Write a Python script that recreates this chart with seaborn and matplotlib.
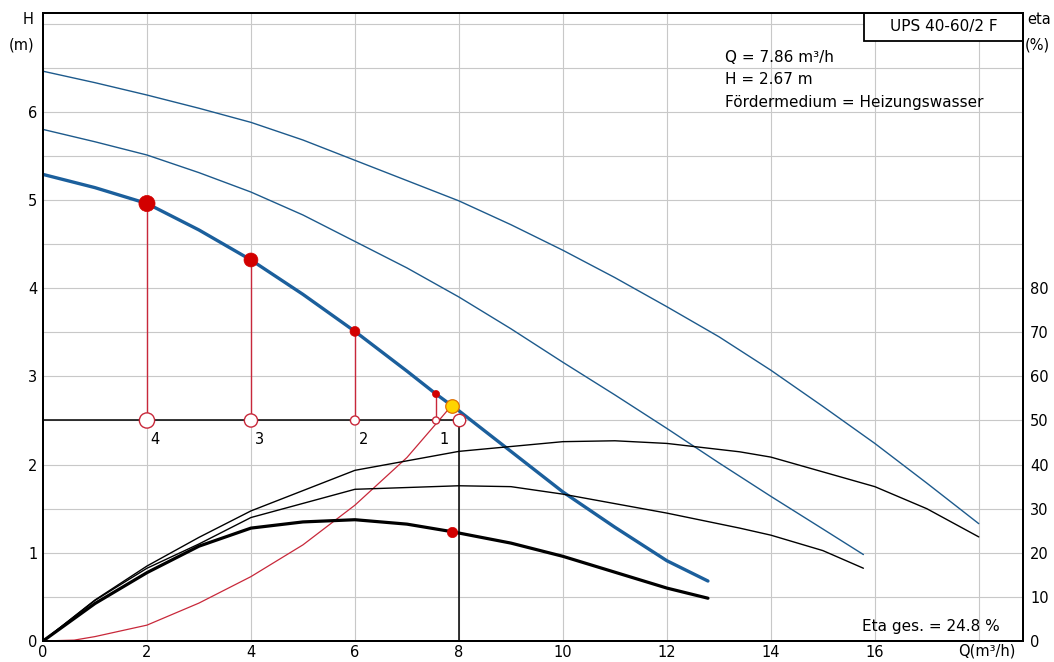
import matplotlib
matplotlib.use("Agg")
import matplotlib.pyplot as plt
from matplotlib.patches import Rectangle
import seaborn as sns

# Pump head curves H (m) over flow Q (m³/h), one per speed stage
q_stage3 = [0, 1, 2, 3, 4, 5, 6, 7, 8, 9, 10, 11, 12, 13, 14, 15, 16, 17, 18]
h_stage3 = [6.46, 6.33, 6.19, 6.04, 5.88, 5.68, 5.45, 5.22, 4.99, 4.72,
            4.43, 4.12, 3.79, 3.45, 3.07, 2.66, 2.24, 1.79, 1.33]
q_stage2 = [0, 1, 2, 3, 4, 5, 6, 7, 8, 9, 10, 11, 12, 13, 14, 15, 15.78]
h_stage2 = [5.80, 5.66, 5.51, 5.31, 5.09, 4.83, 4.53, 4.23, 3.90, 3.54,
            3.16, 2.79, 2.41, 2.02, 1.64, 1.27, 0.98]
q_stage1 = [0, 1, 2, 3, 4, 5, 6, 7, 7.56, 7.86, 8, 9, 10, 11, 12, 12.79]
h_stage1 = [5.29, 5.14, 4.96, 4.66, 4.32, 3.93, 3.51, 3.06, 2.80, 2.67,
            2.61, 2.15, 1.69, 1.29, 0.91, 0.68]

# Efficiency curves eta (%) per speed stage
q_eta3 = [0, 1, 2, 3, 4, 6, 8, 10, 11, 12, 13.4, 14, 16, 17, 18]
eta3 = [0, 9.3, 17.0, 23.5, 29.5, 38.7, 43.0, 45.2, 45.4, 44.8, 42.9,
        41.7, 35.0, 30.0, 23.6]
q_eta2 = [0, 1, 2, 3, 4, 6, 8, 9, 10, 12, 13.4, 14, 15, 15.78]
eta2 = [0, 9.2, 16.5, 22.0, 28.0, 34.4, 35.2, 35.0, 33.3, 29.0, 25.6,
        24.0, 20.5, 16.5]
q_eta1 = [0, 1, 2, 3, 4, 5, 6, 7, 7.86, 9, 10, 11, 12, 12.79]
eta1 = [0, 8.5, 15.5, 21.5, 25.6, 27.0, 27.5, 26.5, 24.8, 22.2, 19.2,
        15.6, 12.0, 9.7]

# System curve up to the operating point
q_system = [0, 0.6, 1, 2, 3, 4, 5, 6, 7, 7.6, 7.86]
h_system = [0, 0.01, 0.05, 0.18, 0.43, 0.73, 1.09, 1.54, 2.08, 2.49, 2.67]

# Marked points on the stage-1 head curve and their numbering
mark_q = [2, 4, 6, 7.56]
mark_h = [4.96, 4.32, 3.51, 2.80]
mark_labels = ["4", "3", "2", "1"]
mark_size = [135, 100, 50, 26]
ring_size = [120, 90, 42, 26]

# Requested duty point and resulting operating point
duty_q, duty_h = 8.0, 2.5
op_q, op_h, op_eta = 7.86, 2.67, 24.8

x_ticks = [0, 2, 4, 6, 8, 10, 12, 14, 16]
h_ticks = [0, 1, 2, 3, 4, 5, 6]
eta_ticks = [0, 10, 20, 30, 40, 50, 60, 70, 80]

sns.set_style("white")
plt.rcParams["font.family"] = ["DejaVu Sans"]
plt.rcParams["font.size"] = 10
plt.rcParams["text.color"] = "black"
plt.rcParams["xtick.color"] = "black"
plt.rcParams["ytick.color"] = "black"

BLUE = "#1d5a8c"
BLUE_THICK = "#1b5f9c"
RED = "#c8283a"
DOT = "#d20000"
GRID = "#c8c8c8"
FS = 10.5
FS_INFO = 11

fig = plt.figure(figsize=(10.54, 6.62), dpi=100)
W, H = 1054, 662
x0, x1, y_top, y_bot = 43, 1023, 13, 641
ax = fig.add_axes([x0 / W, 1 - y_bot / H, (x1 - x0) / W, (y_bot - y_top) / H])
xmax = 18.85
hmax = 7.12
ax.set_xlim(0, xmax)
ax.set_ylim(0, hmax)

# grid: every 2 m³/h and every 0.5 m
for q in range(2, 19, 2):
    ax.axvline(q, color=GRID, lw=0.8, zorder=0)
for i in range(1, 15):
    ax.axhline(i * 0.5, color=GRID, lw=0.8, zorder=0)

ax2 = ax.twinx()
ax2.set_ylim(0, hmax * 20)

# head curves
sns.lineplot(x=q_stage3, y=h_stage3, ax=ax, color=BLUE, lw=1.0, zorder=3)
sns.lineplot(x=q_stage2, y=h_stage2, ax=ax, color=BLUE, lw=1.0, zorder=3)
sns.lineplot(x=q_stage1, y=h_stage1, ax=ax, color=BLUE_THICK, lw=2.4, zorder=3)

# efficiency curves
sns.lineplot(x=q_eta3, y=eta3, ax=ax2, color="black", lw=1.0, zorder=3)
sns.lineplot(x=q_eta2, y=eta2, ax=ax2, color="black", lw=1.0, zorder=3)
sns.lineplot(x=q_eta1, y=eta1, ax=ax2, color="black", lw=2.3, zorder=3)

# system curve
sns.lineplot(x=q_system, y=h_system, ax=ax, color=RED, lw=0.9, zorder=4)

# duty point cross lines
ax.plot([0, duty_q], [duty_h, duty_h], color="black", lw=1.1, zorder=4)
ax.plot([duty_q, duty_q], [0, duty_h], color="black", lw=1.1, zorder=4)

# verticals from marked points down to the duty head
ax.vlines(mark_q, duty_h, mark_h, color=RED, lw=1.0, zorder=5)
sns.scatterplot(x=mark_q, y=mark_h, ax=ax, s=mark_size, color=DOT,
                edgecolor=DOT, linewidth=0.5, zorder=7, legend=False)
sns.scatterplot(x=mark_q, y=[duty_h] * len(mark_q), ax=ax, s=ring_size,
                color="white", edgecolor=RED, linewidth=1.0, zorder=7,
                legend=False)
sns.scatterplot(x=[duty_q], y=[duty_h], ax=ax, s=80, color="white",
                edgecolor=RED, linewidth=1.0, zorder=7, legend=False)
for q, lab in zip(mark_q, mark_labels):
    ax.annotate(lab, (q, duty_h), xytext=(6, -14), textcoords="offset points",
                ha="center", va="center", fontsize=FS, zorder=8)

# operating point
sns.scatterplot(x=[op_q], y=[op_h], ax=ax, s=95, color="#ffd400",
                edgecolor="#e07000", linewidth=0.9, zorder=8, legend=False)
sns.scatterplot(x=[op_q], y=[op_eta], ax=ax2, s=55, color=DOT,
                edgecolor=DOT, linewidth=0.5, zorder=8, legend=False)

# axes, ticks
ax.set_xticks(x_ticks)
ax.set_xticklabels([str(v) for v in x_ticks])
ax.set_yticks(h_ticks)
ax.set_yticklabels([str(v) for v in h_ticks])
ax2.set_yticks(eta_ticks)
ax2.set_yticklabels([str(v) for v in eta_ticks])
ax.tick_params(axis="both", length=0, labelsize=FS, pad=4)
ax.tick_params(axis="x", pad=3)
ax2.tick_params(axis="y", length=0, labelsize=FS, pad=5)
ax.set_xlabel("")
ax.set_ylabel("")
ax2.set_ylabel("")
for a in (ax, ax2):
    for s in a.spines.values():
        s.set_color("black")
        s.set_linewidth(1.4)

# flow unit sits in the tick-label row
ax.annotate("Q(m³/h)", (18.15, 0), xytext=(0, -7.5), textcoords="offset points",
            ha="center", va="center", fontsize=FS, annotation_clip=False)

fig.text(28 / W, 1 - 20 / H, "H", ha="center", va="center", fontsize=FS)
fig.text(22 / W, 1 - 45 / H, "(m)", ha="center", va="center", fontsize=FS)
fig.text(1027 / W, 1 - 20 / H, "eta", ha="left", va="center", fontsize=FS)
fig.text(1025 / W, 1 - 45 / H, "(%)", ha="left", va="center", fontsize=FS)

# type box in the top right corner
bx = (864 - x0) / (x1 - x0)
by = 1 - (41 - y_top) / (y_bot - y_top)
ax.add_patch(Rectangle((bx, by), 1 - bx, 1 - by, transform=ax.transAxes,
                       facecolor="white", edgecolor="black", lw=1.3,
                       zorder=9, clip_on=False))
ax.text((bx + 1) / 2, (by + 1) / 2, "UPS 40-60/2 F", transform=ax.transAxes,
        ha="center", va="center", fontsize=FS_INFO, zorder=10)

info_x = (725 - x0) / (x1 - x0)
for i, line in enumerate(["Q = 7.86 m³/h", "H = 2.67 m",
                          "Fördermedium = Heizungswasser"]):
    yy = 1 - (57 + 23 * i - y_top) / (y_bot - y_top)
    ax.text(info_x, yy, line, transform=ax.transAxes, ha="left",
            va="center", fontsize=FS_INFO, zorder=10)

ax.text((862 - x0) / (x1 - x0), 1 - (627 - y_top) / (y_bot - y_top),
        "Eta ges. = 24.8 %", transform=ax.transAxes, ha="left",
        va="center", fontsize=FS_INFO, zorder=10)

fig.savefig("out.png", dpi=100, facecolor="white")
